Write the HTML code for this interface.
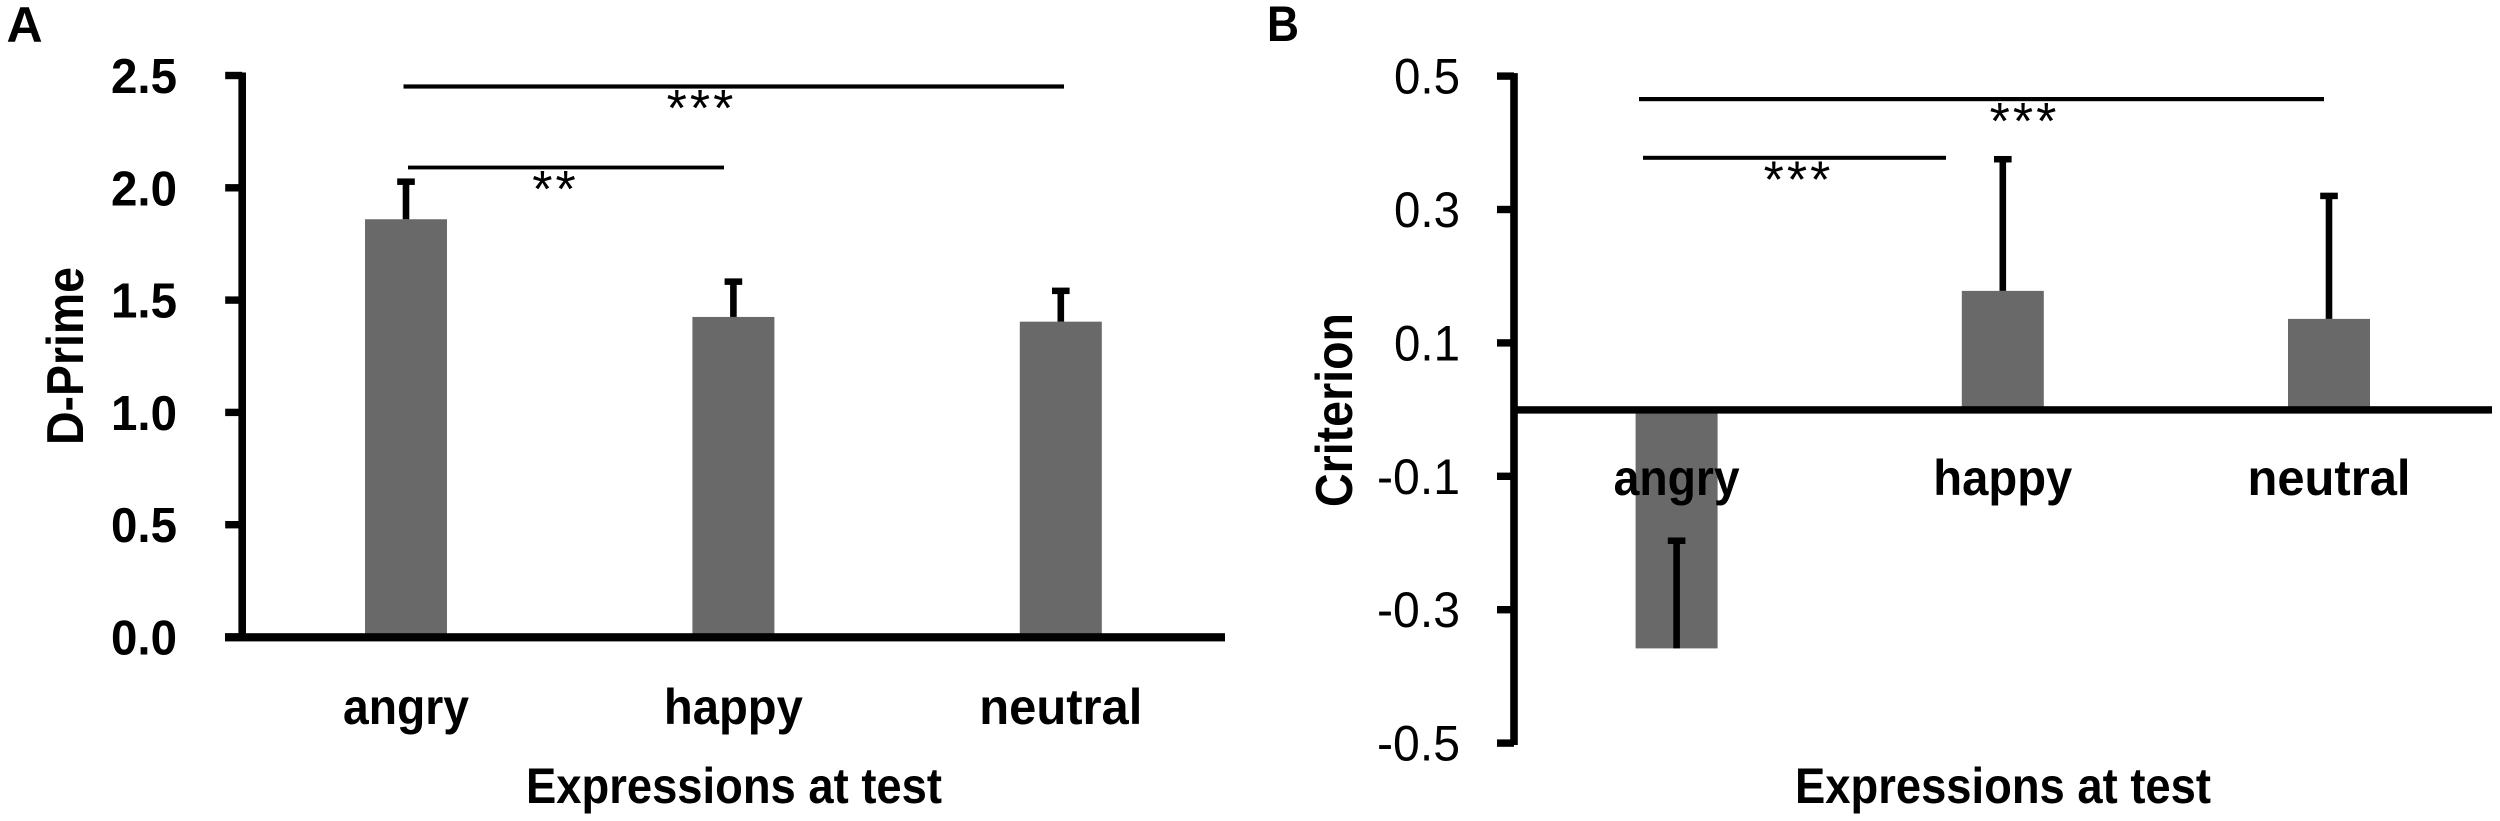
<!DOCTYPE html>
<html lang="en">
<head>
<meta charset="utf-8">
<title>D-Prime and Criterion by expression</title>
<style>
html,body{margin:0;padding:0;background:#fff;width:2500px;height:821px;overflow:hidden}
svg{display:block}
text{font-family:"Liberation Sans",sans-serif;fill:#000}
.b{font-weight:bold}
</style>
</head>
<body>
<svg id="figure" xmlns="http://www.w3.org/2000/svg" width="2500" height="821" viewBox="0 0 2500 821">
  <rect width="2500" height="821" fill="#fff"/>
  <text class="b" x="6.500" y="42" font-size="50">A</text>
  <text class="b" x="1267" y="41" font-size="50" textLength="32" lengthAdjust="spacingAndGlyphs">B</text>

  <text class="b" transform="translate(83,356) rotate(-90)" text-anchor="middle" font-size="52" textLength="178" lengthAdjust="spacingAndGlyphs">D-Prime</text>
  <text class="b" transform="translate(1352,410) rotate(-90)" text-anchor="middle" font-size="52" textLength="194" lengthAdjust="spacingAndGlyphs">Criterion</text>
  <text class="b" x="734" y="803" text-anchor="middle" font-size="50" textLength="416" lengthAdjust="spacingAndGlyphs">Expressions at test</text>
  <text class="b" x="2003" y="803" text-anchor="middle" font-size="50" textLength="416" lengthAdjust="spacingAndGlyphs">Expressions at test</text>

  <g id="panel-a"></g>
  <g id="panel-b"></g>

  <rect x="403.500" y="84.400" width="660.500" height="4.200" fill="#000"/>
  <rect x="408" y="165.600" width="316" height="3.800" fill="#000"/>
  <text x="701.500" y="126" text-anchor="middle" font-size="52" letter-spacing="3">***</text>
  <text x="555.500" y="207" text-anchor="middle" font-size="52" letter-spacing="3">**</text>

  <rect x="1639" y="97" width="685" height="4.200" fill="#000"/>
  <rect x="1643" y="155.800" width="303" height="4" fill="#000"/>
  <text x="2024.500" y="139" text-anchor="middle" font-size="52" letter-spacing="3">***</text>
  <text x="1798.500" y="197.500" text-anchor="middle" font-size="52" letter-spacing="3">***</text>
</svg>
<script>
const categories = ["angry", "happy", "neutral"];
const dPrimeValues = [1.86, 1.425, 1.404];
const dPrimeErrors = [0.175, 0.165, 0.145];
const dPrimeTicks = ["0.0", "0.5", "1.0", "1.5", "2.0", "2.5"];
const criterionValues = [-0.358, 0.178, 0.136];
const criterionErrors = [0.164, 0.2, 0.187];
const criterionTicks = ["-0.5", "-0.3", "-0.1", "0.1", "0.3", "0.5"];

const NS = "http://www.w3.org/2000/svg";
const labelFit = {angry: 126, happy: 139, neutral: 163};

function node(parent, tag, attrs, text) {
  const el = document.createElementNS(NS, tag);
  for (const k in attrs) el.setAttribute(k, attrs[k]);
  if (text !== undefined) el.textContent = text;
  parent.appendChild(el);
  return el;
}

function drawPanel(cfg) {
  const g = document.getElementById(cfg.id);
  const y = cfg.y, x = cfg.x;

  cfg.values.forEach(function (v, i) {
    const top = Math.min(y(v), y(0));
    const h = Math.abs(y(v) - y(0));
    const bar = node(g, "rect", {x: x(i) - 41, y: top, width: 82, height: h, fill: "#696969"});
    
    
  });

  const axisTop = y(Number(cfg.ticks[cfg.ticks.length - 1])) - 3;
  const yAxis = node(g, "rect", {x: cfg.axisX - 3.8, y: axisTop, width: 7.6, height: cfg.axisBottom - axisTop});
  
  

  const xAxis = node(g, "rect", {x: cfg.zeroStart, y: y(0) - cfg.zeroThick / 2 + 0.3, width: cfg.zeroEnd - cfg.zeroStart, height: cfg.zeroThick});
  
  

  cfg.ticks.forEach(function (t) {
    const v = Number(t);
    const mark = node(g, "rect", {x: cfg.axisX - 17, y: y(v) - 3.7, width: 17, height: 7.4});
    
    
    const label = node(g, "text", {
      x: cfg.tickRight, y: y(v) + 17.5, "text-anchor": "end",
      "font-size": cfg.tickSize, "font-weight": cfg.tickWeight,
      textLength: t.charAt(0) === "-" ? 83 : 66, lengthAdjust: "spacingAndGlyphs"
    }, t);
    
    
  });

  cfg.values.forEach(function (v, i) {
    const tip = v + cfg.errors[i];
    const stem = node(g, "rect", {x: x(i) - 3.3, y: y(tip), width: 6.6, height: y(v) - y(tip)});
    
    
    const cap = node(g, "rect", {x: x(i) - 8.8, y: y(tip) - 1.5, width: 17.6, height: 6.5});
    
    
  });

  categories.forEach(function (c, i) {
    const label = node(g, "text", {
      x: x(i), y: cfg.catBaseline, "text-anchor": "middle", "font-size": 50, "font-weight": "bold",
      textLength: labelFit[c], lengthAdjust: "spacingAndGlyphs"
    }, c);
    
    
  });
}

drawPanel({
  id: "panel-a",
  values: dPrimeValues,
  errors: dPrimeErrors,
  ticks: dPrimeTicks,
  y: function (v) { return 637 - 224.6 * v; },
  x: function (i) { return 406 + 327.4 * i; },
  axisX: 242.2,
  axisBottom: 637,
  zeroStart: 225,
  zeroEnd: 1225,
  zeroThick: 8.2,
  tickRight: 177,
  tickSize: 49,
  tickWeight: "bold",
  catBaseline: 724
});

drawPanel({
  id: "panel-b",
  values: criterionValues,
  errors: criterionErrors,
  ticks: criterionTicks,
  y: function (v) { return 409.6 - 667 * v; },
  x: function (i) { return 1676.6 + 326.2 * i; },
  axisX: 1514,
  axisBottom: 745,
  zeroStart: 1513,
  zeroEnd: 2492,
  zeroThick: 7.4,
  tickRight: 1460,
  tickSize: 50,
  tickWeight: "normal",
  catBaseline: 495
});
</script>
</body>
</html>
